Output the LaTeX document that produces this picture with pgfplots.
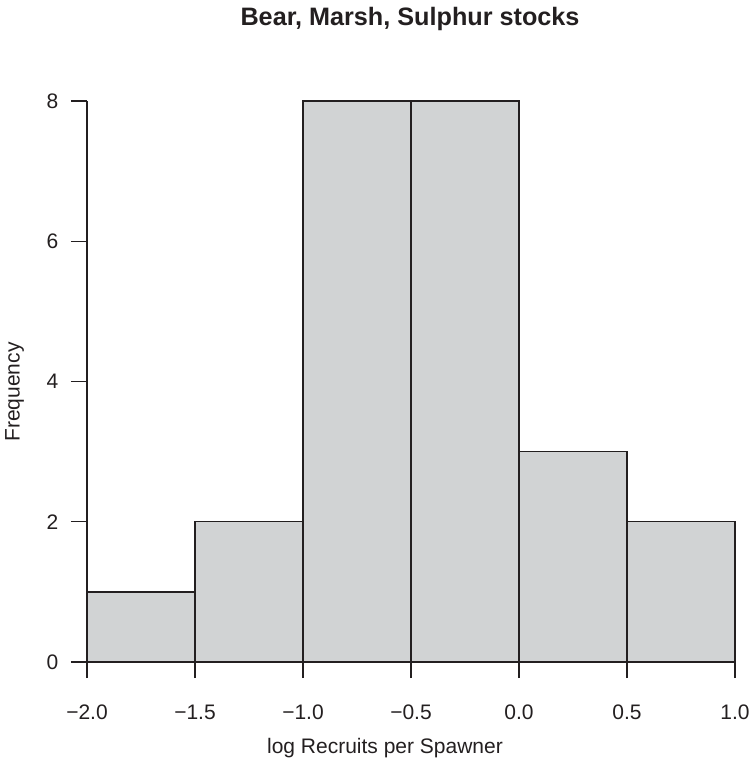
\documentclass[border=0pt]{standalone}
\usepackage{pgfplots}
\pgfplotsset{compat=1.18}
\usepackage{fontspec}
\setmainfont{Liberation Sans}
\definecolor{barfill}{HTML}{D1D3D4}
\definecolor{ink}{HTML}{231F20}
\begin{document}
\begin{tikzpicture}
\begin{axis}[
  at={(0,0)}, anchor=south west,
  scale only axis,
  width=486pt, height=420.75pt,
  xmin=-2, xmax=1, ymin=0, ymax=8,
  enlargelimits=false,
  clip=false,
  axis x line=bottom, axis y line=left,
  axis line style={-, line width=1.1pt, color=ink},
  xtick style={line width=1.1pt, color=ink},
  ytick style={line width=1.1pt, color=ink},
  xtick={-2,-1.5,-1,-0.5,0,0.5,1},
  xticklabels={−2.0,−1.5,−1.0,−0.5,0.0,0.5,1.0},
  ytick={0,2,4,6,8},
  yticklabels={0,2,4,6,8},
  tick label style={font=\fontsize{15.75}{18}\selectfont, text=ink},
  xticklabel style={anchor=base, yshift=-30.75pt},
  yticklabel style={anchor=east, xshift=-6pt},
  axis on top,
  tick align=outside,
  major tick length=12pt,
]
\addplot[ybar interval, fill=barfill, draw=ink, line width=1.1pt]
  coordinates {(-2,1) (-1.5,2) (-1,8) (-0.5,8) (0,3) (0.5,2) (1,2)};
\end{axis}
\node[anchor=base, text=ink, font=\fontsize{15.75}{18}\selectfont] at (223.5pt,-68.25pt) {log Recruits per Spawner};
\node[anchor=base, text=ink, font=\fontsize{18.9}{22}\selectfont\bfseries] at (242.25pt,477pt) {Bear, Marsh, Sulphur stocks};
\node[anchor=center, rotate=90, text=ink, font=\fontsize{15.75}{18}\selectfont] at (-54.4pt,202.5pt) {Frequency};
\path[use as bounding box] (-65.25pt,-75pt) rectangle (496.5pt,496.5pt);
\end{tikzpicture}
\end{document}
